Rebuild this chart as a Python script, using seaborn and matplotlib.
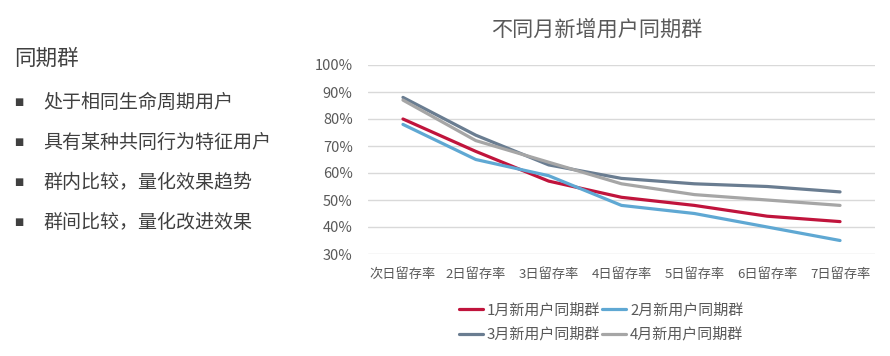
import matplotlib
matplotlib.use("Agg")
import matplotlib.pyplot as plt
import seaborn as sns
import pandas as pd
from matplotlib.ticker import FuncFormatter

# ---- data ----
categories = ["次日留存率", "2日留存率", "3日留存率", "4日留存率", "5日留存率", "6日留存率", "7日留存率"]
series_names = ["1月新用户同期群", "2月新用户同期群", "3月新用户同期群", "4月新用户同期群"]
jan = [0.80, 0.68, 0.57, 0.51, 0.48, 0.44, 0.42]
feb = [0.78, 0.65, 0.59, 0.48, 0.45, 0.40, 0.35]
mar = [0.88, 0.74, 0.63, 0.58, 0.56, 0.55, 0.53]
apr = [0.87, 0.72, 0.64, 0.56, 0.52, 0.50, 0.48]
yticks = [0.3, 0.4, 0.5, 0.6, 0.7, 0.8, 0.9, 1.0]
title = "不同月新增用户同期群"
side_heading = "同期群"
side_bullets = ["处于相同生命周期用户", "具有某种共同行为特征用户", "群内比较，量化效果趋势", "群间比较，量化改进效果"]

colors = ["#C0143C", "#5FA8D3", "#6A7D91", "#A6A6A6"]

rows = []
for name, vals in zip(series_names, [jan, feb, mar, apr]):
    for i, (c, v) in enumerate(zip(categories, vals)):
        rows.append({"day": i, "label": c, "rate": v, "series": name})
df = pd.DataFrame(rows)

sns.set_style("white")
plt.rcParams["font.family"] = ["Noto Sans CJK SC", "DejaVu Sans"]
plt.rcParams["axes.unicode_minus"] = False

fig = plt.figure(figsize=(8.9, 3.56), dpi=100)
ax = fig.add_axes([368 / 890, 1 - 254 / 356, 507 / 890, (254 - 65) / 356])

sns.lineplot(data=df, x="day", y="rate", hue="series", hue_order=series_names,
             palette=colors, linewidth=2.3, ax=ax, legend=True)

ax.set_xlim(-0.48, 6.48)
ax.set_ylim(0.3, 1.0)
ax.set_yticks(yticks)
ax.yaxis.set_major_formatter(FuncFormatter(lambda v, p: f"{v*100:.0f}%"))
ax.set_xticks(range(len(categories)))
ax.set_xticklabels(categories)
ax.set_xlabel("")
ax.set_ylabel("")
ax.grid(axis="y", color="#D9D9D9", linewidth=1.0)
ax.set_axisbelow(True)
for s in ax.spines.values():
    s.set_visible(False)
ax.tick_params(axis="y", length=0, pad=11, labelsize=10.5, labelcolor="#595959")
ax.tick_params(axis="x", length=0, pad=10, labelsize=9.5, labelcolor="#595959")

# legend, row-wise order
handles, labels = ax.get_legend_handles_labels()
order = [0, 2, 1, 3]
ax.legend([handles[i] for i in order], [labels[i] for i in order],
          ncol=2, loc="upper left", bbox_to_anchor=(453 / 890, 1 - 297 / 356),
          bbox_transform=fig.transFigure, frameon=False, fontsize=10.8,
          handlelength=1.6, handletextpad=0.25, columnspacing=0.15,
          labelspacing=0.66, labelcolor="#595959", borderaxespad=0)

fig.text(597 / 890, 1 - 30 / 356, title, ha="center", va="center",
         fontsize=15.2, color="#595959")

fig.text(14 / 890, 1 - 59 / 356, side_heading, ha="left", va="center",
         fontsize=15.5, color="#404040")
bullet_y = [102, 142, 182, 222]
for y, t in zip(bullet_y, side_bullets):
    fig.text(14 / 890, 1 - y / 356, "■", ha="left", va="center",
             fontsize=7, color="#404040", family=["DejaVu Sans"])
    fig.text(43 / 890, 1 - y / 356, t, ha="left", va="center",
             fontsize=13.7, color="#404040")

fig.savefig("out.png", dpi=100, facecolor="white")
